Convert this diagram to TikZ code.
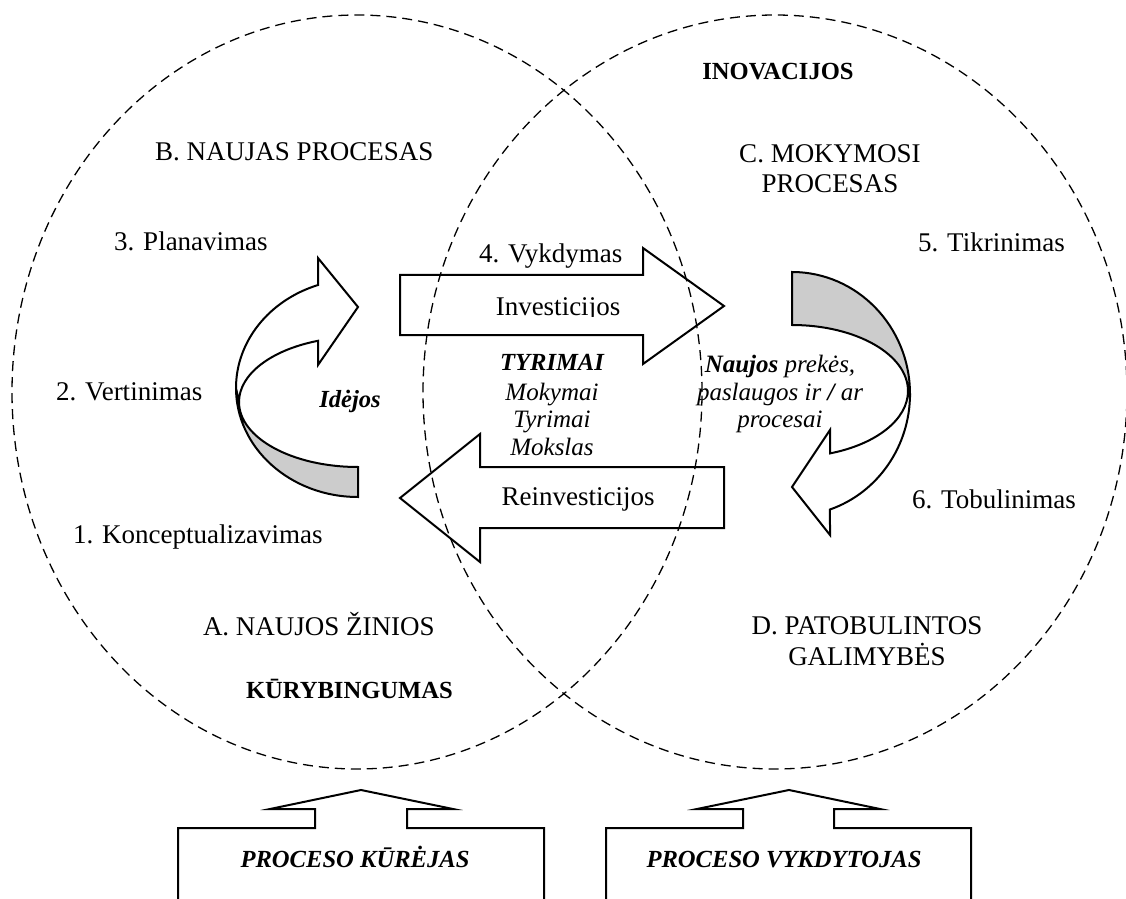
\documentclass[tikz,border=0pt]{standalone}
\usepackage{fontspec}
\setmainfont{Liberation Serif}
\definecolor{ribbongray}{HTML}{CCCCCC}
\tikzset{
  txt/.style={inner sep=0pt, outer sep=0pt, anchor=base, font=\fontsize{13.5}{15}\selectfont},
  txtl/.style={txt, anchor=base west},
  itx/.style={inner sep=0pt, outer sep=0pt, anchor=base, font=\fontsize{12.5}{14}\selectfont\itshape},
  bfx/.style={inner sep=0pt, outer sep=0pt, anchor=base, font=\fontsize{12.3}{14}\selectfont\bfseries},
  bix/.style={inner sep=0pt, outer sep=0pt, anchor=base, font=\fontsize{12.3}{14}\selectfont\bfseries\itshape},
  shp/.style={draw=black, line width=1pt, line join=miter},
  dashell/.style={draw=black, line width=0.65pt, dash pattern=on 5pt off 3pt},
}
\begin{document}
\begin{tikzpicture}[x=0.5pt,y=-0.5pt]
\useasboundingbox (0,0) rectangle (1126,899);

% straight arrows
\draw[shp] (400,275) -- (643,275) -- (643,248) -- (724,306) -- (643,364) -- (643,335) -- (400,335) -- cycle;
\draw[shp] (724,467) -- (480,467) -- (480,434) -- (400,498) -- (480,562) -- (480,528) -- (724,528) -- cycle;

% left curved arrow
\filldraw[shp, fill=ribbongray] (358,388) ++(180:61pt and 54.5pt)
  arc[start angle=180, end angle=270, x radius=61pt, y radius=54.5pt]
  -- (358,467) arc[start angle=270, end angle=180, x radius=59.5pt, y radius=32.5pt] -- cycle;
\filldraw[shp, fill=white] (358,388) ++(180:61pt and 54.5pt)
  arc[start angle=180, end angle=109.14, x radius=61pt, y radius=54.5pt]
  -- (318,258) -- (358,307) -- (318,365) -- (318,340.8)
  arc[start angle=109.64, end angle=180, x radius=59.5pt, y radius=32.5pt] -- cycle;

% right curved arrow
\filldraw[shp, fill=ribbongray] (792,394) ++(90:59pt and 61pt)
  arc[start angle=90, end angle=0, x radius=59pt, y radius=61pt]
  -- (908,391) arc[start angle=0, end angle=90, x radius=58pt, y radius=33pt] -- cycle;
\filldraw[shp, fill=white] (792,394) ++(0:59pt and 61pt)
  arc[start angle=0, end angle=-71.22, x radius=59pt, y radius=61pt]
  -- (830,535) -- (792,487) -- (830,430) -- (830,453.4)
  arc[start angle=-70.88, end angle=0, x radius=58pt, y radius=33pt] -- cycle;

% dashed ellipses
\draw[dashell] (357,392) ellipse [x radius=172.5pt, y radius=188.5pt];
\draw[dashell] (775,392) ellipse [x radius=176pt, y radius=188.5pt];

% bottom up-arrows with boxes
\draw[shp] (178,910) -- (178,828) -- (315,828) -- (315,809) -- (270,809) -- (361,790) -- (453,809) -- (407,809) -- (407,828) -- (544,828) -- (544,910);
\draw[shp] (606,910) -- (606,828) -- (743,828) -- (743,809) -- (697,809) -- (789,790) -- (880,809) -- (834,809) -- (834,828) -- (971,828) -- (971,910);

% texts
\node[bfx] (inov) at (778,80) {INOVACIJOS};
\node[txtl] (bnp) at (155,161) {B. NAUJAS PROCESAS};
\node[txt] (cmp1) at (830,163) {C. MOKYMOSI};
\node[txt] (cmp2) at (830,193) {PROCESAS};
\node[txtl] (plan) at (114,250) {3. Planavimas};
\node[txtl] (vert) at (56,400) {2. Vertinimas};
\node[txtl] (konc) at (73,543) {1. Konceptualizavimas};
\node[txtl] (anz) at (203,635) {A. NAUJOS ŽINIOS};
\node[bfx, anchor=base west] (kur) at (246,698) {KŪRYBINGUMAS};
\node[txtl] (vykd) at (479,263) {4. Vykdymas};
\begin{scope}
  \clip (450,200) rectangle (700,316.5);
  \node[txt] (inv) at (558,315) {Investicijos};
\end{scope}
\node[bix] (tyr) at (552,370) {TYRIMAI};
\node[itx] (mok) at (552,400) {Mokymai};
\node[itx] (tyr2) at (552,427) {Tyrimai};
\node[itx] (moks) at (552,455) {Mokslas};
\node[bix] (ide) at (350,407) {Idėjos};
\node[txt] (reinv) at (578,505) {Reinvesticijos};
\node[itx] (np1) at (780,372) {\textbf{Naujos} prekės,};
\node[itx] (np2) at (780,400) {paslaugos ir \textbf{/} ar};
\node[itx] (np3) at (780,427) {procesai};
\node[txtl] (tikr) at (918,252) {5. Tikrinimas};
\node[txtl] (tob) at (912,508) {6. Tobulinimas};
\node[txt] (dpg1) at (867,634) {D. PATOBULINTOS};
\node[txt] (dpg2) at (867,665) {GALIMYBĖS};
\node[bix] (pk) at (355,867) {PROCESO KŪRĖJAS};
\node[bix] (pv) at (784,867) {PROCESO VYKDYTOJAS};
\end{tikzpicture}
\end{document}
